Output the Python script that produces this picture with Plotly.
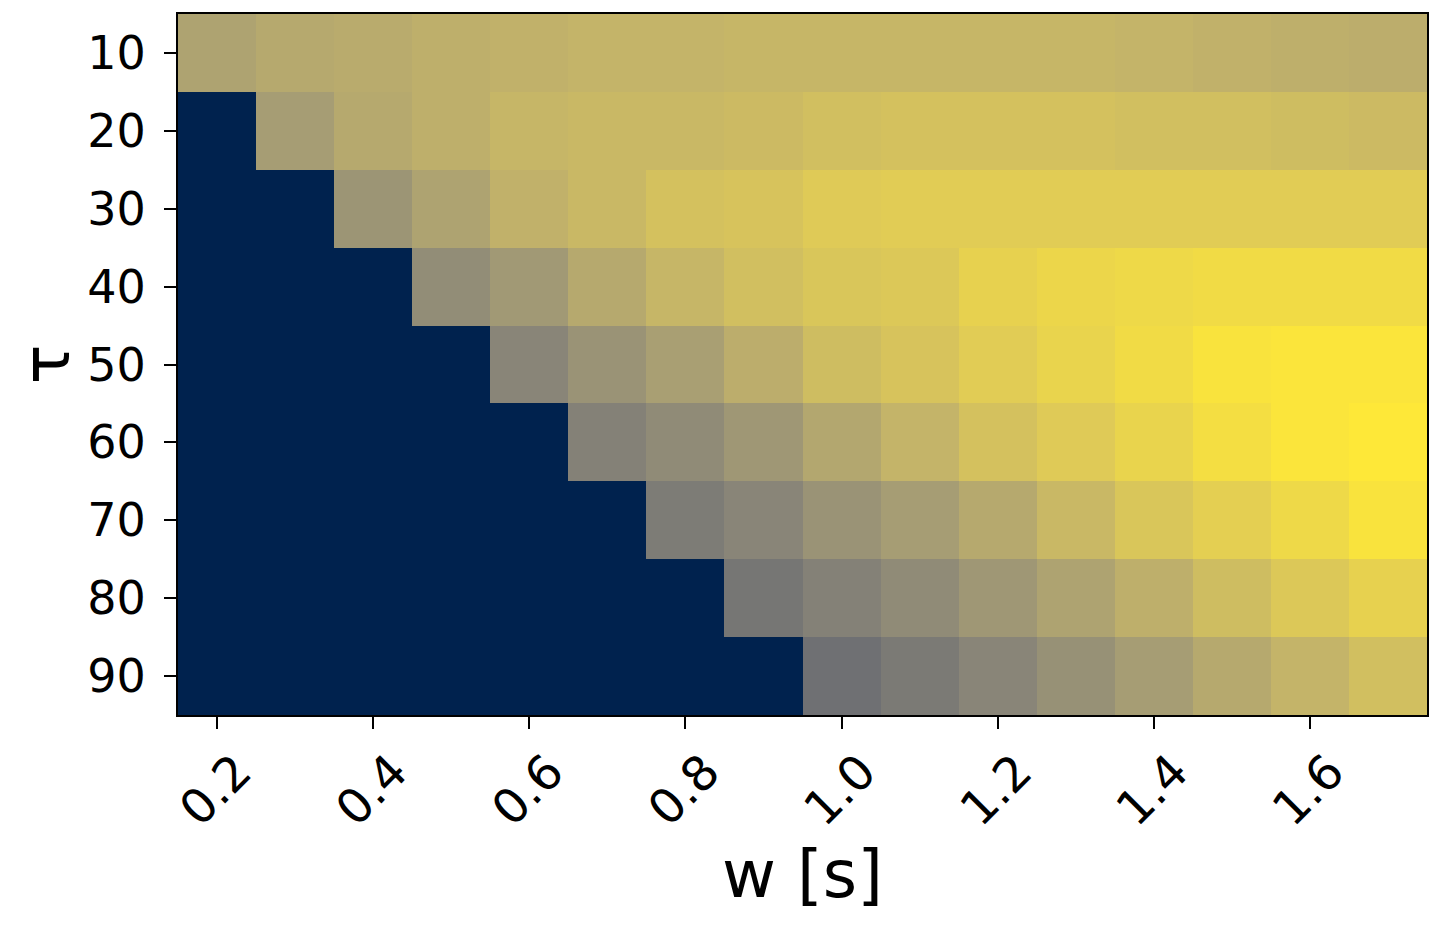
import plotly.graph_objects as go

# ---- data ----
w_values = [0.2, 0.3, 0.4, 0.5, 0.6, 0.7, 0.8, 0.9, 1.0, 1.1, 1.2, 1.3, 1.4, 1.5, 1.6, 1.7]
tau_values = [10, 20, 30, 40, 50, 60, 70, 80, 90]

row_tau10 = [0.70, 0.73, 0.74, 0.76, 0.77, 0.78, 0.78, 0.79, 0.79, 0.79, 0.79, 0.79, 0.78, 0.77, 0.76, 0.75]
row_tau20 = [0.00, 0.67, 0.73, 0.76, 0.79, 0.80, 0.80, 0.81, 0.83, 0.84, 0.84, 0.84, 0.83, 0.83, 0.82, 0.81]
row_tau30 = [0.00, 0.00, 0.63, 0.70, 0.77, 0.80, 0.84, 0.85, 0.88, 0.89, 0.89, 0.89, 0.89, 0.89, 0.89, 0.89]
row_tau40 = [0.00, 0.00, 0.00, 0.59, 0.65, 0.73, 0.79, 0.83, 0.86, 0.87, 0.91, 0.93, 0.94, 0.95, 0.95, 0.95]
row_tau50 = [0.00, 0.00, 0.00, 0.00, 0.55, 0.62, 0.68, 0.75, 0.82, 0.85, 0.89, 0.92, 0.95, 0.98, 0.99, 0.99]
row_tau60 = [0.00, 0.00, 0.00, 0.00, 0.00, 0.53, 0.58, 0.64, 0.72, 0.78, 0.84, 0.88, 0.92, 0.96, 0.99, 1.00]
row_tau70 = [0.00, 0.00, 0.00, 0.00, 0.00, 0.00, 0.50, 0.55, 0.62, 0.67, 0.73, 0.80, 0.86, 0.90, 0.94, 0.98]
row_tau80 = [0.00, 0.00, 0.00, 0.00, 0.00, 0.00, 0.00, 0.47, 0.53, 0.58, 0.64, 0.70, 0.76, 0.82, 0.87, 0.91]
row_tau90 = [0.00, 0.00, 0.00, 0.00, 0.00, 0.00, 0.00, 0.00, 0.44, 0.49, 0.55, 0.61, 0.67, 0.73, 0.78, 0.83]

x_tick_values = [0.2, 0.4, 0.6, 0.8, 1.0, 1.2, 1.4, 1.6]
x_tick_labels = ["0.2", "0.4", "0.6", "0.8", "1.0", "1.2", "1.4", "1.6"]
y_tick_labels = ["10", "20", "30", "40", "50", "60", "70", "80", "90"]
x_title = "w [s]"
y_title = "τ"

z = [row_tau10, row_tau20, row_tau30, row_tau40, row_tau50,
     row_tau60, row_tau70, row_tau80, row_tau90]

# matplotlib-style cividis
cividis_hex = ["#00224e", "#123570", "#3b496c", "#575d6d", "#707173",
               "#8a8678", "#a59c74", "#c3b369", "#e1cc55", "#fee838"]
colorscale = [[i / (len(cividis_hex) - 1), c] for i, c in enumerate(cividis_hex)]

FONT = "DejaVu Sans"

fig = go.Figure(
    go.Heatmap(
        x=w_values,
        y=tau_values,
        z=z,
        zmin=0,
        zmax=1,
        colorscale=colorscale,
        showscale=False,
    )
)

# page body has an 8px default margin, so the figure is offset by 8px
fig.update_layout(
    width=1427,
    height=916,
    margin=dict(l=170, r=8, t=6, b=209, autoexpand=False),
    paper_bgcolor="white",
    plot_bgcolor="white",
    font=dict(family=FONT, color="black"),
)

fig.update_xaxes(
    range=[0.15, 1.75],
    tickvals=x_tick_values,
    ticktext=x_tick_labels,
    tickangle=-45,
    ticks="outside",
    ticklen=12,
    tickwidth=1.5,
    tickcolor="black",
    tickfont=dict(size=48, family=FONT, color="black"),
    ticklabelshift=20,
    ticklabelstandoff=-5,
    showline=True,
    linecolor="black",
    linewidth=2,
    mirror=True,
    showgrid=False,
    zeroline=False,
    automargin=True,
    title=dict(text=x_title, font=dict(size=66, family=FONT, color="black"), standoff=12),
)

fig.update_yaxes(
    range=[95, 5],
    tickvals=tau_values,
    ticktext=y_tick_labels,
    ticks="outside",
    ticklen=12,
    tickwidth=1.5,
    tickcolor="black",
    tickfont=dict(size=46, family=FONT, color="black"),
    ticklabelstandoff=9,
    showline=True,
    linecolor="black",
    linewidth=2,
    mirror=True,
    showgrid=False,
    zeroline=False,
    automargin=True,
    title=dict(text=y_title, font=dict(size=66, family=FONT, color="black"), standoff=40),
)

fig.write_html("out.html")
